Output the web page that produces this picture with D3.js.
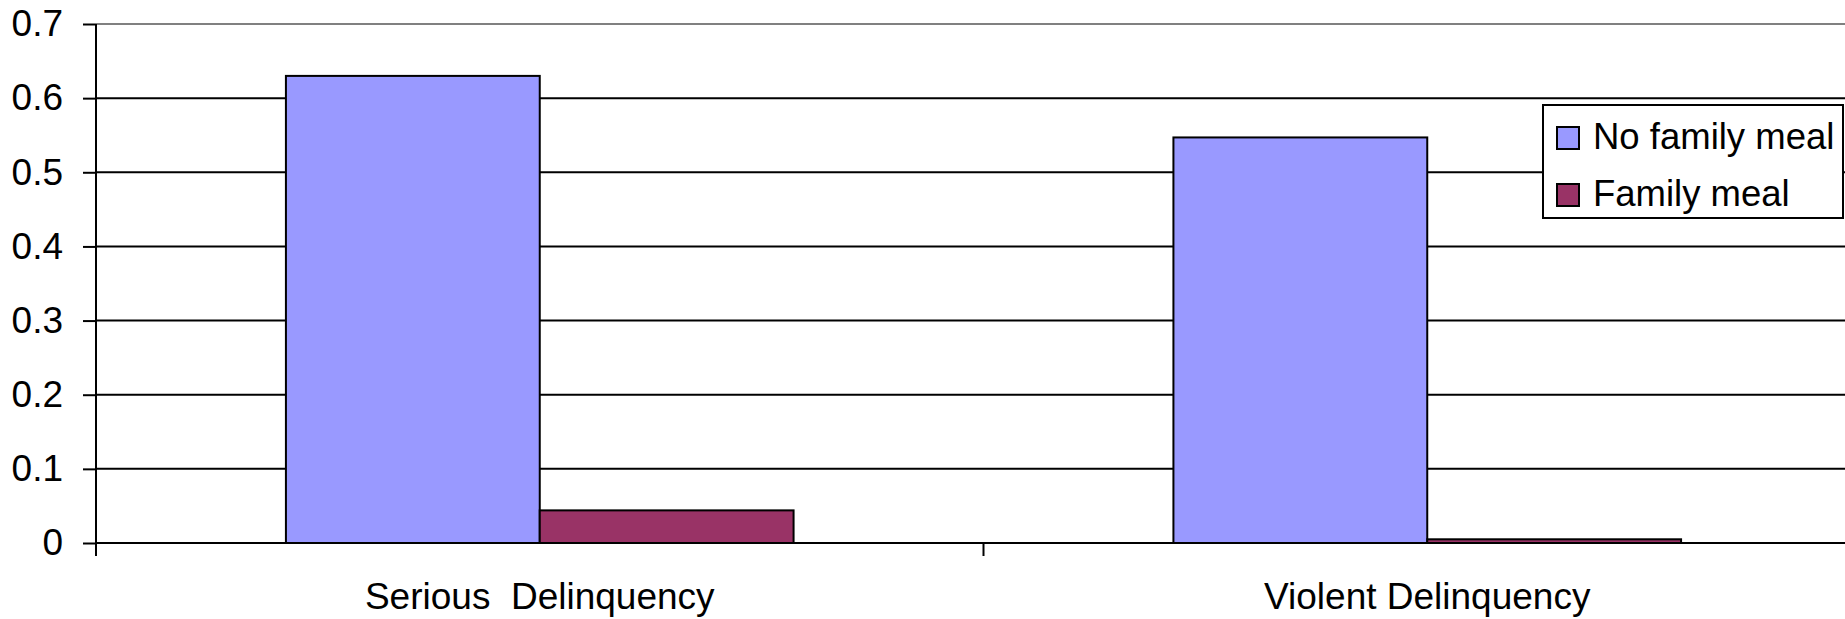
<!DOCTYPE html>
<html>
<head>
<meta charset="utf-8">
<script src="https://cdn.jsdelivr.net/npm/d3@7"></script>
<style>
  html, body { margin: 0; padding: 0; background: #fff; }
  svg { display: block; }
  text { font-family: "Liberation Sans", Arial, sans-serif; fill: #000; }
</style>
</head>
<body>
<svg id="chart" width="1845" height="619"></svg>
<script>
// Data
const categories = ["Serious  Delinquency", "Violent Delinquency"];
const seriesNames = ["No family meal", "Family meal"];
const noFamilyMeal = [0.63, 0.547];
const familyMeal = [0.044, 0.005];
const yTicks = [0, 0.1, 0.2, 0.3, 0.4, 0.5, 0.6, 0.7];
const colors = ["#9999FF", "#993366"];

const seriesValues = [noFamilyMeal, familyMeal];
const rows = categories.map((c, i) => ({
  category: c,
  values: seriesNames.map((s, j) => ({ series: s, value: seriesValues[j][i], color: colors[j] }))
}));

const svg = d3.select("#chart");
const plotLeft = 96, plotRight = 1871, plotTop = 24, plotBottom = 543;

const x0 = d3.scaleBand()
  .domain(categories)
  .range([plotLeft, plotRight])
  .paddingInner(0.428)
  .paddingOuter(0.214);

const x1 = d3.scaleBand()
  .domain(seriesNames)
  .range([0, x0.bandwidth()])
  .padding(0);

const y = d3.scaleLinear().domain([0, 0.7]).range([plotBottom, plotTop]);

// Gridlines
svg.append("g")
  .selectAll("line")
  .data(yTicks.filter(t => t > 0))
  .join("line")
  .attr("x1", plotLeft).attr("x2", 1845)
  .attr("y1", d => y(d)).attr("y2", d => y(d))
  .attr("stroke", d => d === 0.7 ? "#808080" : "#000")
  .attr("stroke-width", 2);

// Y axis
const yAxis = d3.axisLeft(y)
  .tickValues(yTicks)
  .tickSize(13)
  .tickPadding(20)
  .tickFormat(d => d === 0 ? "0" : d3.format(".1f")(d));

const gy = svg.append("g")
  .attr("transform", `translate(${plotLeft},0)`)
  .call(yAxis);
gy.select(".domain").remove();
gy.selectAll(".tick line").attr("stroke", "#000").attr("stroke-width", 2);
gy.selectAll(".tick text")
  .attr("font-size", 37)
  .attr("font-family", "'Liberation Sans', Arial, sans-serif")
  .attr("fill", "#000");

// Bars
const groups = svg.append("g")
  .selectAll("g")
  .data(rows)
  .join("g")
  .attr("transform", d => `translate(${x0(d.category)},0)`);

groups.selectAll("rect")
  .data(d => d.values)
  .join("rect")
  .attr("x", d => x1(d.series))
  .attr("width", x1.bandwidth())
  .attr("y", d => y(d.value))
  .attr("height", d => y(0) - y(d.value))
  .attr("fill", d => d.color)
  .attr("stroke", "#000")
  .attr("stroke-width", 2);

// Vertical axis line
svg.append("line")
  .attr("x1", plotLeft).attr("x2", plotLeft)
  .attr("y1", plotTop).attr("y2", 556)
  .attr("stroke", "#000").attr("stroke-width", 2);

// Category axis line and separator ticks
svg.append("line")
  .attr("x1", plotLeft).attr("x2", 1845)
  .attr("y1", plotBottom).attr("y2", plotBottom)
  .attr("stroke", "#000").attr("stroke-width", 2);

const step = x0.step();
svg.append("g")
  .selectAll("line")
  .data(categories.slice(1))
  .join("line")
  .attr("x1", d => x0(d) - step * 0.214)
  .attr("x2", d => x0(d) - step * 0.214)
  .attr("y1", plotBottom).attr("y2", 556)
  .attr("stroke", "#000").attr("stroke-width", 2);

// Category labels
svg.append("g")
  .selectAll("text")
  .data(categories)
  .join("text")
  .attr("x", d => x0(d) + x0.bandwidth() / 2)
  .attr("y", 609)
  .attr("text-anchor", "middle")
  .attr("font-size", 37)
  .style("white-space", "pre")
  .text(d => d);

// Legend
const legend = svg.append("g");
legend.append("rect")
  .attr("x", 1543).attr("y", 105)
  .attr("width", 300).attr("height", 113)
  .attr("fill", "#fff")
  .attr("stroke", "#000").attr("stroke-width", 2);

const items = legend.selectAll("g.item")
  .data(seriesNames)
  .join("g")
  .attr("class", "item")
  .attr("transform", (d, i) => `translate(1557,${127 + i * 57})`);

items.append("rect")
  .attr("width", 22).attr("height", 22)
  .attr("fill", (d, i) => colors[i])
  .attr("stroke", "#000").attr("stroke-width", 2);

items.append("text")
  .attr("x", 36).attr("y", 22)
  .attr("font-size", 36.5)
  .text(d => d);
</script>
</body>
</html>
